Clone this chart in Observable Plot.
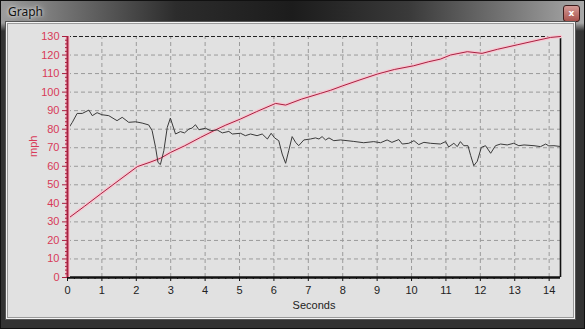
<!DOCTYPE html>
<html>
<head>
<meta charset="utf-8">
<script src="https://cdn.jsdelivr.net/npm/d3@7"></script>
<script src="https://cdn.jsdelivr.net/npm/@observablehq/plot@0.6"></script>
<style>
  html, body { margin: 0; padding: 0; }
  body { width: 585px; height: 329px; overflow: hidden; background: #2a2a2a; position: relative; font-family: "Liberation Sans", Arial, sans-serif; }
  #frame { position: absolute; left: 0; top: 0; width: 583px; height: 327px; border: 1px solid #111;
    background:
      linear-gradient(to bottom, rgba(0,0,0,0) 0px, rgba(0,0,0,0) 22px, #333 30px),
      linear-gradient(to right, #9c9c9c 0%, #6e6e6e 12%, #2c2c2c 30%, #1c1c1c 50%, #3a3a3a 70%, #7a7a7a 88%, #a8a8a8 100%); }
  #title { position: absolute; left: 8px; top: 3px; font-family: "Noto Sans", "Open Sans", sans-serif; font-size: 12px; color: #111; text-shadow: 0 0 6px #e8e8e8, 0 0 3px #ddd; }
  #close { position: absolute; left: 563px; top: 5px; width: 15px; height: 15px; border: 1px solid #3a1a1a; border-radius: 3px;
    background: linear-gradient(to bottom, #d49a96, #a8524c); color: #fff; font: bold 9px "DejaVu Sans", sans-serif; text-align: center; line-height: 15px; }
  #client { position: absolute; left: 6px; top: 22px; width: 567px; height: 295px; background: #e1e1e1;
    border: 1px solid #f4f4f4; outline: 1px solid #555; box-shadow: inset 0 0 0 1px #9a9a9a; }
  #chart { position: absolute; left: 8px; top: 24px; }
</style>
</head>
<body>
<div id="frame"></div>
<div id="title">Graph</div>
<div id="close">x</div>
<div id="client"></div>
<div id="chart"></div>
<script>
// Red series (mph vs seconds)
const redT = [0, 0.5, 0.96, 1.5, 2.03, 2.4, 2.7, 3.0, 3.4, 3.87, 4.3, 4.6, 5.03, 5.5, 6.05, 6.34, 6.8, 7.35, 7.65, 8.0, 8.5, 9.0, 9.5, 10.06, 10.5, 10.84, 11.13, 11.62, 12.05, 12.5, 13.07, 13.5, 14.04, 14.33];
const redV = [31.6, 38.5, 45, 52.5, 59.8, 62.2, 64.3, 67.5, 71, 75.6, 79.6, 82.2, 85.5, 89.5, 93.9, 93.0, 96.2, 99.3, 101, 103.4, 106.6, 109.7, 112.2, 114.2, 116.4, 117.8, 120, 121.8, 120.9, 123.1, 125.5, 127.3, 129.5, 130];

// Black series
const blkT = [0, 0.14, 0.28, 0.43, 0.62, 0.72, 0.86, 1.0, 1.2, 1.44, 1.59, 1.78, 1.98, 2.17, 2.36, 2.46, 2.56, 2.63, 2.7, 2.8, 2.9, 2.99, 3.14, 3.28, 3.4, 3.53, 3.62, 3.72, 3.82, 4.01, 4.16, 4.35, 4.5, 4.69, 4.79, 5.03, 5.17, 5.32, 5.51, 5.66, 5.81, 5.92, 6.02, 6.14, 6.24, 6.34, 6.43, 6.53, 6.63, 6.72, 6.87, 7.06, 7.21, 7.31, 7.4, 7.5, 7.6, 7.74, 7.94, 8.32, 8.61, 8.9, 9.1, 9.29, 9.43, 9.63, 9.73, 9.92, 10.07, 10.21, 10.36, 10.55, 10.84, 10.99, 11.08, 11.23, 11.33, 11.42, 11.52, 11.64, 11.72, 11.81, 11.91, 12.03, 12.15, 12.3, 12.44, 12.59, 12.78, 12.97, 13.12, 13.27, 13.56, 13.75, 13.9, 13.99, 14.14, 14.31];
const blkV = [79.6, 83.7, 88.5, 88.5, 90.3, 87.3, 88.9, 87.8, 87.3, 84.6, 86.4, 83.7, 84.0, 83.3, 82.3, 79.2, 70.2, 62.1, 60.9, 68.4, 81.0, 86.0, 77.4, 78.7, 78.0, 80.1, 80.6, 82.4, 79.7, 80.5, 79.2, 79.6, 78.0, 78.8, 77.4, 77.8, 76.5, 77.4, 76.5, 77.4, 74.7, 77.8, 75.3, 73.8, 66.6, 61.6, 68.4, 76.0, 72.9, 71.1, 74.2, 74.7, 75.3, 74.7, 76.0, 74.2, 75.3, 73.8, 74.2, 73.4, 72.7, 73.3, 72.7, 74.2, 72.9, 74.4, 72.0, 72.4, 73.8, 71.7, 72.9, 72.4, 72.0, 73.3, 70.4, 72.4, 70.6, 73.3, 71.1, 71.1, 65.7, 60.3, 62.7, 70.2, 71.1, 67.0, 71.1, 72.0, 71.5, 72.4, 71.1, 71.5, 71.1, 70.6, 72.0, 71.0, 71.1, 70.7];

const xTicks = d3.range(0, 15);
const yTicks = d3.range(0, 131, 10);
const xMax = 14.33, yMax = 130;

const red = redT.map((t, i) => ({t, v: redV[i]}));
const blk = blkT.map((t, i) => ({t, v: blkV[i]}));
const xMinor = d3.range(0, 71).map(i => i * 0.2).filter(v => v <= xMax && Math.abs(v - Math.round(v)) > 1e-6);
const yMinor = d3.range(0, 131, 2).filter(v => v % 10 !== 0);

const redC = "#a82040", pink = "#f6c8d2", labC = "#d83a58";

const chart = Plot.plot({
  width: 567, height: 295,
  marginLeft: 59, marginTop: 12, marginRight: 15, marginBottom: 42,
  x: {domain: [0, xMax]},
  y: {domain: [0, yMax]},
  style: {background: "transparent", fontFamily: "'Liberation Sans', Arial, sans-serif", fontSize: "11px"},
  marks: [
    Plot.ruleX(xTicks.filter(d => d > 0), {y1: 0, y2: yMax, stroke: "#9a9a9a", strokeDasharray: "4,3", strokeWidth: 1}),
    Plot.ruleY(yTicks.filter(d => d > 0 && d < yMax), {x1: 0, x2: xMax, stroke: "#9a9a9a", strokeDasharray: "4,3", strokeWidth: 1}),
    Plot.ruleY([yMax], {x1: 0, x2: xMax, stroke: "#222", strokeDasharray: "4,2", strokeWidth: 1.2}),
    Plot.ruleX([xMax], {y1: 0, y2: yMax, stroke: "#111", strokeWidth: 1.6}),
    Plot.line(red, {x: "t", y: "v", stroke: pink, strokeWidth: 3.5}),
    Plot.line(red, {x: "t", y: "v", stroke: redC, strokeWidth: 1}),
    Plot.line(blk, {x: "t", y: "v", stroke: "#3a3a3a", strokeWidth: 1}),
    Plot.axisX({ticks: xTicks, tickSize: 4, tickPadding: 5, stroke: "#111", fill: "#222", tickFormat: d => String(d), label: null}),
    Plot.axisX({ticks: xMinor, tickSize: 2, tickFormat: () => "", stroke: "#111", label: null}),
    Plot.ruleY([0], {x1: 0, x2: xMax, stroke: "#111", strokeWidth: 2.6}),
    Plot.ruleX([0], {y1: 0, y2: yMax, stroke: pink, strokeWidth: 5}),
    Plot.axisY({ticks: yMinor, tickSize: 2, tickFormat: () => "", stroke: redC, label: null}),
    Plot.axisY({ticks: yTicks, tickSize: 5, tickPadding: 3, stroke: redC, fill: labC, tickFormat: d => String(d), label: null}),
    Plot.ruleX([0], {y1: 0, y2: yMax, stroke: redC, strokeWidth: 2}),
    Plot.text(["mph"], {frameAnchor: "left", dx: -34, rotate: -90, fill: labC, fontSize: 11}),
    Plot.text(["Seconds"], {frameAnchor: "bottom", dy: 31, fill: "#222", fontSize: 11})
  ]
});
document.getElementById("chart").appendChild(chart);
</script>
</body>
</html>
